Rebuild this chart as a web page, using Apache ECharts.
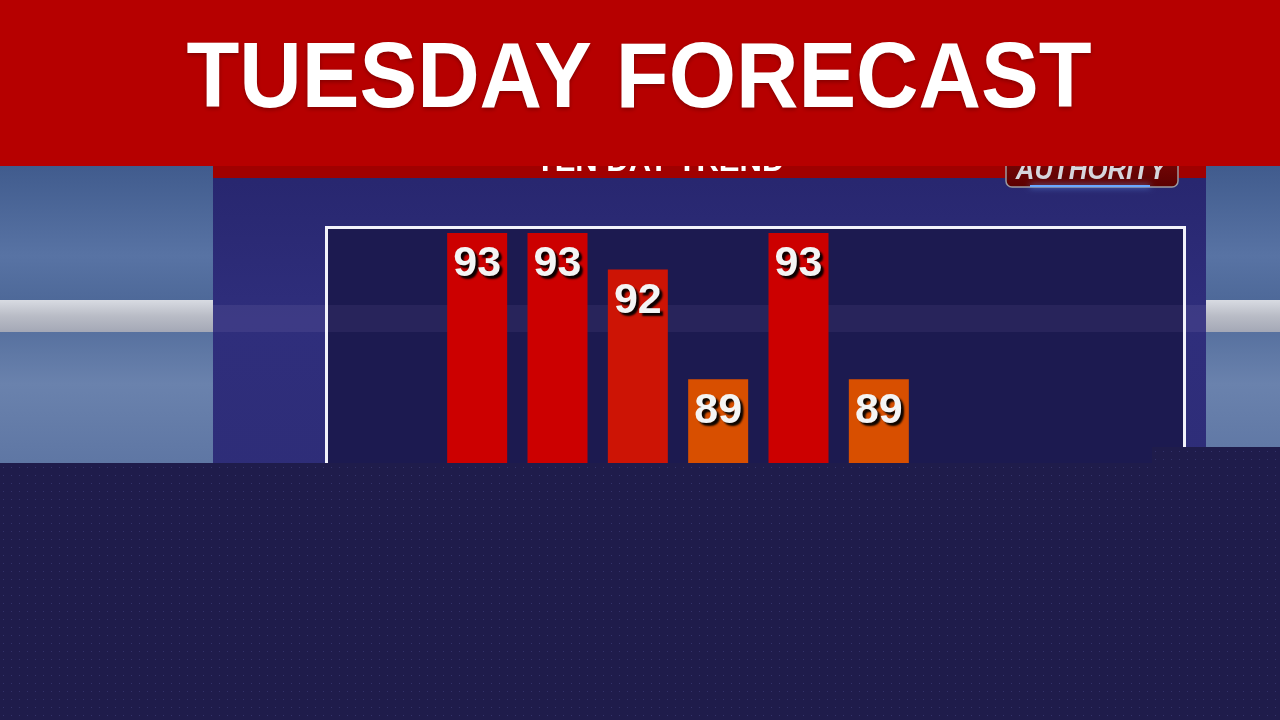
<!DOCTYPE html>
<html><head><meta charset="utf-8">
<script src="https://cdn.jsdelivr.net/npm/echarts@6/dist/echarts.min.js"></script>
<style>html,body{margin:0;padding:0;background:#1f1c4b}#c{width:1280px;height:720px}</style>
</head><body><div id="c"></div>
<script>
const titleText = 'TUESDAY FORECAST';
const subtitleText = 'TEN DAY TREND';
const logoText = 'AUTHORITY';
const categories = ['Day 1', 'Day 2', 'Day 3', 'Day 4', 'Day 5', 'Day 6'];
const highs = [93, 93, 92, 89, 93, 89];
const barColors = ['#cc0000', '#cc0000', '#cd1405', '#d84f00', '#cc0000', '#d84f00'];

// dotted pattern for bottom panel
const pc = document.createElement('canvas');
pc.width = 8; pc.height = 8;
const pctx = pc.getContext('2d');
pctx.fillStyle = '#1f1c4b'; pctx.fillRect(0, 0, 8, 8);
pctx.fillStyle = '#34336a'; pctx.fillRect(3, 3, 1, 1);

const chart = echarts.init(document.getElementById('c'), null, {renderer: 'canvas'});
chart.setOption({
  backgroundColor: '#1f1c4b',
  animation: false,
  grid: {left: 437, right: 361, top: 233, bottom: 231, containLabel: false},
  xAxis: {type: 'category', data: categories, axisLine: {show: false}, axisTick: {show: false}, axisLabel: {show: false}},
  yAxis: {type: 'value', min: 86, max: 93, splitLine: {show: false}, axisLine: {show: false}, axisLabel: {show: false}},
  series: [{
    type: 'bar', barWidth: 60, z: 5,
    data: highs.map((v, i) => ({value: v, itemStyle: {color: barColors[i]}})),
    label: {
      show: true, position: 'insideTop', distance: 10,
      fontFamily: 'Liberation Sans', fontWeight: 'bold', fontSize: 43, color: '#f4f4f4',
      textShadowColor: 'rgba(0,0,0,0.95)', textShadowOffsetX: 3, textShadowOffsetY: 3, textShadowBlur: 2
    }
  }],
  graphic: [
    // sky background
    {type: 'rect', z: -20, shape: {x: 0, y: 160, width: 1280, height: 320},
      style: {fill: new echarts.graphic.LinearGradient(0, 0, 0, 1, [
        {offset: 0, color: '#3f5a8c'}, {offset: 0.3, color: '#5873a4'}, {offset: 0.45, color: '#4d6898'},
        {offset: 0.7, color: '#6a82ad'}, {offset: 1, color: '#5c74a2'}])}},
    // white band in sky
    {type: 'rect', z: -19, shape: {x: 0, y: 300, width: 1280, height: 32},
      style: {fill: new echarts.graphic.LinearGradient(0, 0, 0, 1, [
        {offset: 0, color: '#d8dbe2'}, {offset: 0.5, color: '#b9bcc6'}, {offset: 1, color: '#a4a8b6'}])}},
    // blue panel
    {type: 'rect', z: -18, shape: {x: 213, y: 160, width: 993, height: 320},
      style: {fill: new echarts.graphic.LinearGradient(0, 0, 0, 1, [
        {offset: 0, color: '#27266e'}, {offset: 0.5, color: '#2f2e7c'}, {offset: 1, color: '#2e2d78'}])}},
    // faint band on panel
    {type: 'rect', z: -17, shape: {x: 213, y: 305, width: 993, height: 27}, style: {fill: 'rgba(120,110,170,0.2)'}},
    // chart box
    {type: 'rect', z: -16, shape: {x: 326.5, y: 227.5, width: 858, height: 300},
      style: {fill: '#1c1a50', stroke: '#f2f2fa', lineWidth: 3}},
    {type: 'rect', z: -15, shape: {x: 328, y: 305, width: 855, height: 27}, style: {fill: 'rgba(110,100,160,0.14)'}},
    // dark red strip below banner
    {type: 'rect', z: 90, shape: {x: 213, y: 160, width: 993, height: 18}, style: {fill: '#a00000'}},
    // partially hidden subtitle
    {type: 'text', z: 91, style: {text: subtitleText, x: 660, y: 178, textAlign: 'center', textVerticalAlign: 'bottom',
      font: 'bold 31px "Liberation Sans"', fill: '#ffffff', textShadowColor: '#000', textShadowOffsetX: 2, textShadowOffsetY: 2}},
    // logo
    {type: 'rect', z: 91, shape: {x: 1006, y: 140, width: 172, height: 47, r: 6},
      style: {fill: new echarts.graphic.LinearGradient(0, 0, 0, 1, [{offset: 0, color: '#8a0a0a'}, {offset: 1, color: '#5a0000'}]),
        stroke: '#9a9aa0', lineWidth: 1.5}},
    {type: 'text', z: 92, x: 1091, y: 186, scaleX: 0.86, style: {text: logoText, x: 0, y: 0, textAlign: 'center', textVerticalAlign: 'bottom',
      font: 'italic bold 30px "Liberation Sans"', fill: '#d6d6dc'}},
    {type: 'rect', z: 92, shape: {x: 1030, y: 185, width: 120, height: 2}, style: {fill: '#6aa8ff', shadowColor: '#6aa8ff', shadowBlur: 6}},
    // top banner
    {type: 'rect', z: 95, shape: {x: 0, y: 0, width: 1280, height: 166}, style: {fill: '#b60000'}},
    {type: 'text', z: 96, x: 639, y: 82, scaleX: 0.94, style: {text: titleText, x: 0, y: 0, textAlign: 'center', textVerticalAlign: 'middle',
      font: 'bold 92px "Liberation Sans"', fill: '#ffffff', textShadowColor: 'rgba(80,0,0,0.5)', textShadowBlur: 4, textShadowOffsetY: 2}},
    // bottom overlay
    {type: 'polygon', z: 100, shape: {points: [[0, 463], [1152, 463], [1152, 447], [1280, 447], [1280, 720], [0, 720]]},
      style: {fill: {image: pc, repeat: 'repeat'}}}
  ]
});
</script></body></html>
